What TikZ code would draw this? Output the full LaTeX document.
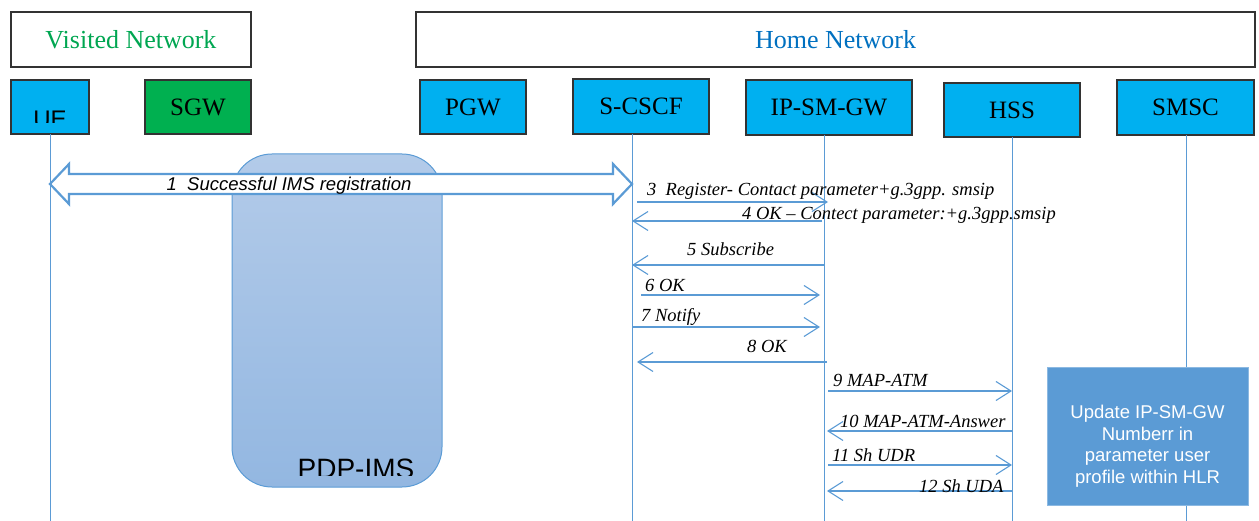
\documentclass[tikz,border=0pt]{standalone}
\usepackage{fontspec}
\setmainfont{Liberation Serif}
\newfontfamily\arialf{Liberation Sans}
\usetikzlibrary{arrows.meta}
\definecolor{lnblue}{HTML}{5B9BD5}
\definecolor{boxblue}{HTML}{00B0F0}
\definecolor{sgwgreen}{HTML}{00B050}
\definecolor{vgreen}{HTML}{00A651}
\definecolor{hblue}{HTML}{0070C0}
\definecolor{pdptop}{HTML}{B3CBE9}
\definecolor{pdpbot}{HTML}{93B7E1}
\begin{document}
\begin{tikzpicture}[x=1pt,y=-1pt,
  titlebox/.style={draw=black!80, line width=1.2pt, inner sep=0, font=\fontsize{26}{26}\selectfont},
  entity/.style={draw=black!80, line width=1.2pt, fill=boxblue, inner sep=0, font=\fontsize{25}{25}\selectfont},
  lifeline/.style={draw=lnblue, line width=1pt},
  msg/.style={draw=lnblue, line width=1.1pt, -{Straight Barb[length=15pt,width=19pt,line width=1.1pt]}},
  mlabel/.style={font=\fontsize{18.5}{18.5}\selectfont\itshape, anchor=base west, inner sep=0},
  ]
\useasboundingbox (0,0) rectangle (1259,521);

% title boxes
\node[titlebox, minimum width=240pt, minimum height=55pt, text=vgreen] (visited) at (131,39.5) {Visited Network};
\node[titlebox, minimum width=839pt, minimum height=55pt, text=hblue] (home) at (835.5,39.5) {Home Network};

% entities
\node[entity, minimum width=78pt, minimum height=54pt] (ue) at (50,107) {};
\begin{scope}
  \clip (11,80) rectangle (89,123);
  \node[font=\arialf\fontsize{24}{24}\selectfont, anchor=north, inner sep=0] (uetext) at (50,111) {UE};
\end{scope}
\node[entity, fill=sgwgreen, minimum width=106pt, minimum height=54pt] (sgw) at (198,107) {SGW};
\node[entity, minimum width=106pt, minimum height=54pt] (pgw) at (473,107) {PGW};
\node[entity, minimum width=136pt, minimum height=55pt] (scscf) at (641,106.5) {S-CSCF};
\node[entity, minimum width=166pt, minimum height=55pt] (ipsm) at (829,107.5) {IP-SM-GW};
\node[entity, minimum width=136pt, minimum height=54pt] (hss) at (1012,110) {HSS};
\node[entity, minimum width=137pt, minimum height=55pt] (smsc) at (1185.5,107.5) {SMSC};

% lifeline coordinates
\coordinate (lU) at (50,134);
\coordinate (lS) at (632,134);
\coordinate (lI) at (824,135);
\coordinate (lH) at (1012,137);
\coordinate (lM) at (1186,135);
\foreach \c in {lU,lS,lI,lH,lM} {\draw[lifeline] (\c) -- (\c |- 0,521);}

% PDP-IMS box
\draw[draw=lnblue, line width=1pt, rounded corners=40pt, top color=pdptop, bottom color=pdpbot] (232,154) rectangle (442,487);
\node[inner sep=0, minimum width=210pt, minimum height=333pt] (pdp) at (337,320.5) {};
\begin{scope}
  \clip (232,154) rectangle (442,475);
  \node[font=\arialf\fontsize{28}{28}\selectfont, anchor=north, inner sep=0] (pdptext) at (356,459) {PDP-IMS};
\end{scope}

% 1 double arrow
\coordinate (a1L) at (lU |- 0,184);
\coordinate (a1R) at (lS |- 0,184);
\draw[draw=lnblue, line width=2.2pt, fill=white, line join=miter]
  (a1L) -- ++(19,-20) -- ++(0,10) -- ([xshift=-19pt,yshift=10pt]a1R) -- ++(0,-10) -- (a1R)
  -- ++(-19,20) -- ++(0,-10) -- ([xshift=19pt,yshift=-10pt]a1L) -- ++(0,10) -- cycle;
\node[font=\arialf\itshape\fontsize{18.5}{18.5}\selectfont, inner sep=0] (m1) at (289,186) {1\ \ Successful IMS registration};

% messages
\draw[msg] ([xshift=5pt]lS |- 0,202) -- ([xshift=4pt]lI |- 0,202);
\node[mlabel] (m3) at (647,196) {3\ \ Register- Contact parameter+g.3gpp. smsip};
\draw[msg] ([xshift=-2pt]lI |- 0,221) -- (lS |- 0,221);
\node[mlabel] (m4) at (742,220) {4 OK -- Contect parameter:+g.3gpp.smsip};
\draw[msg] (lI |- 0,265) -- (lS |- 0,265);
\node[mlabel] (m5) at (687,256) {5 Subscribe};
\draw[msg] ([xshift=9pt]lS |- 0,295) -- ([xshift=-4pt]lI |- 0,295);
\node[mlabel] (m6) at (645,292) {6 OK};
\draw[msg] (lS |- 0,327) -- ([xshift=-4pt]lI |- 0,327);
\node[mlabel] (m7) at (641,322) {7 Notify};
\draw[msg] ([xshift=3pt]lI |- 0,362) -- ([xshift=5pt]lS |- 0,362);
\node[mlabel] (m8) at (747,353) {8 OK};
\draw[msg] ([xshift=4pt]lI |- 0,391) -- (lH |- 0,391);
\node[mlabel] (m9) at (833,387) {9 MAP-ATM};
\draw[msg] (lH |- 0,431) -- ([xshift=3pt]lI |- 0,431);
\node[mlabel] (m10) at (840,427) {10 MAP-ATM-Answer};
\draw[msg] ([xshift=4pt]lI |- 0,465) -- (lH |- 0,465);
\node[mlabel] (m11) at (832,461) {11 Sh UDR};
\draw[msg] (lH |- 0,491) -- ([xshift=3pt]lI |- 0,491);
\node[mlabel] (m12) at (919,492) {12 Sh UDA};

% update box
\node[fill=lnblue, draw=lnblue!70!white, line width=0.8pt, minimum width=201pt, minimum height=138pt, inner sep=0] (upd) at (1147.5,436) {};
\node[text=white, inner sep=0, font=\arialf\fontsize{18.5}{21.5}\selectfont, align=center] (updtext) at (1147.5,446) {Update IP-SM-GW\\Numberr in\\parameter user\\profile within HLR};
\end{tikzpicture}
\end{document}
